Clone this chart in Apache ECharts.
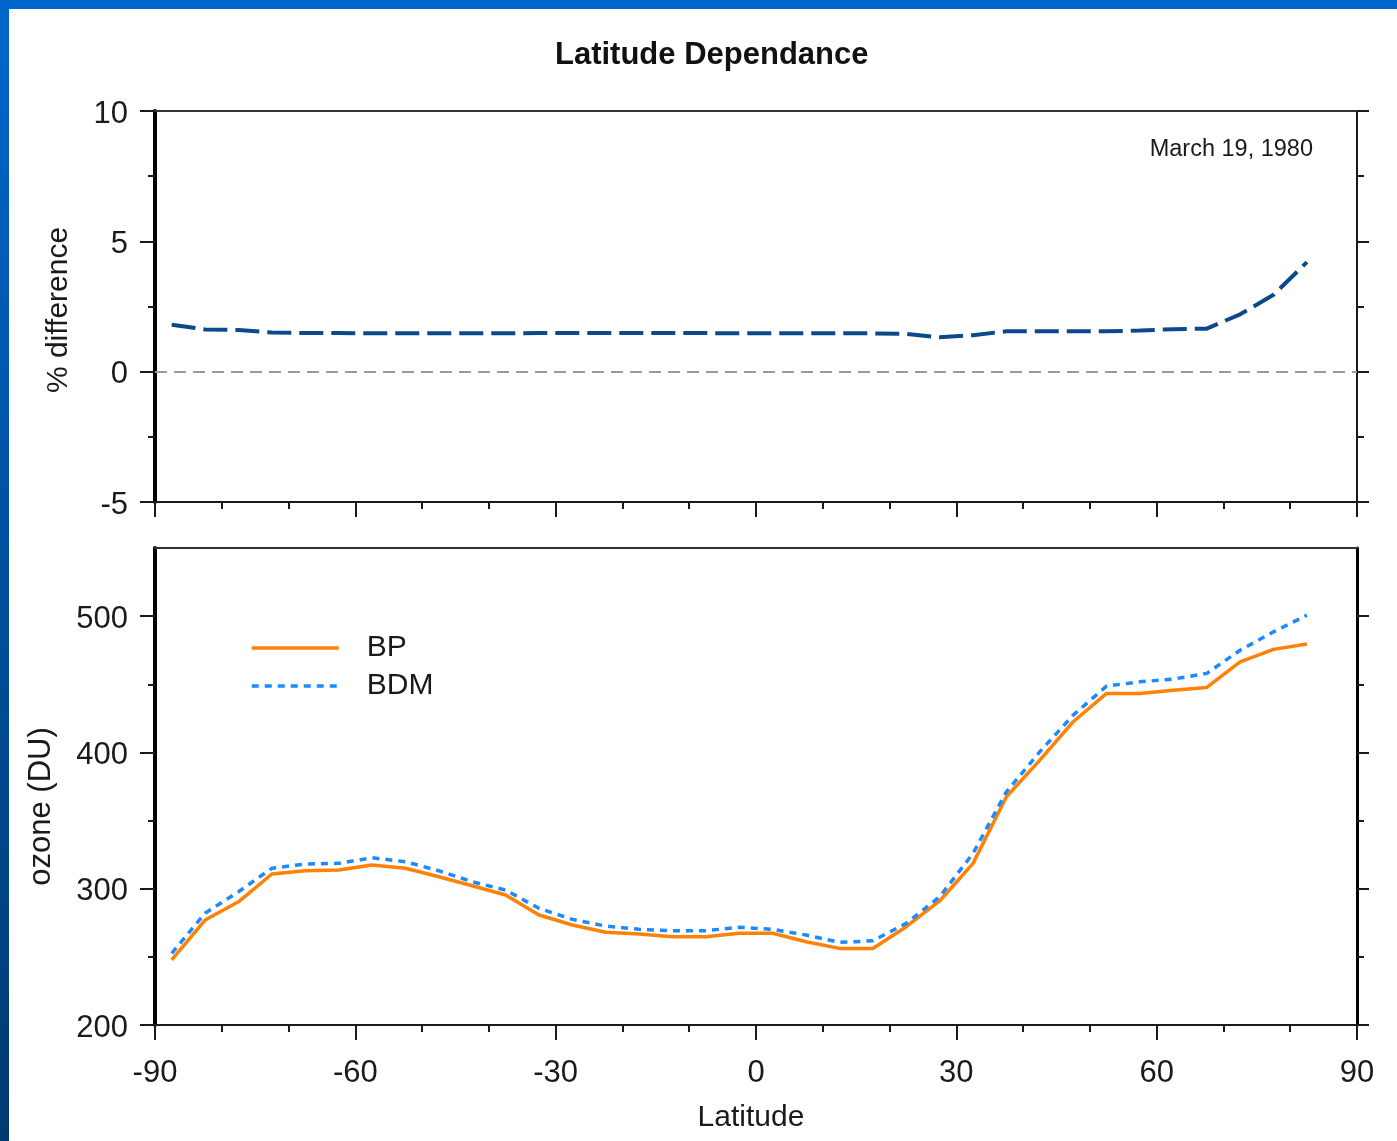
<!DOCTYPE html>
<html>
<head>
<meta charset="utf-8">
<script src="https://cdn.jsdelivr.net/npm/echarts@6/dist/echarts.min.js"></script>
<style>
  html, body { margin: 0; padding: 0; background: #fff; }
  #chart { width: 1397px; height: 1141px; }
  .frame-top { position: absolute; left: 0; top: 0; width: 1397px; height: 9px; background: #0066cc; }
  .frame-left { position: absolute; left: 0; top: 0; width: 9px; height: 1141px; background: linear-gradient(#0066cc, #003a70); }
</style>
</head>
<body>
<div id="chart"></div>
<div class="frame-top"></div>
<div class="frame-left"></div>
<script>
const latitudes = [
  -87.5, -82.5, -77.5, -72.5, -67.5, -62.5, -57.5, -52.5, -47.5, -42.5, -37.5, -32.5,
  -27.5, -22.5, -17.5, -12.5, -7.5, -2.5, 2.5, 7.5, 12.5, 17.5, 22.5, 27.5,
  32.5, 37.5, 42.5, 47.5, 52.5, 57.5, 62.5, 67.5, 72.5, 77.5, 82.5,
];
const percentDifference = [
  1.8, 1.62, 1.6, 1.5, 1.48, 1.48, 1.47, 1.47, 1.47, 1.47, 1.47, 1.48,
  1.48, 1.48, 1.48, 1.48, 1.48, 1.47, 1.47, 1.47, 1.47, 1.47, 1.45, 1.32,
  1.4, 1.55, 1.55, 1.55, 1.55, 1.58, 1.63, 1.65, 2.2, 2.95, 4.2,
];
const ozoneBP = [
  247.7, 277, 290.4, 310.8, 313.2, 313.7, 317.4, 315, 308.8, 302.2, 295.4, 280.7,
  273.4, 268, 266.8, 264.8, 264.8, 267.3, 267.3, 261.1, 256.2, 256.2, 272.1, 291,
  318.6, 367.5, 394.4, 422.5, 443.3, 443.3, 445.7, 447.7, 466.5, 475.6, 479.5,
];
const ozoneBDM = [
  252.6, 282, 297.8, 315, 318.1, 318.6, 322.7, 319.8, 313.2, 305.1, 299, 285.6,
  277.5, 272.6, 270.2, 269.2, 269.2, 271.7, 270.2, 266, 260.6, 261.8, 274.6, 294.1,
  325.9, 371.1, 400.5, 427.4, 448.7, 451.8, 453.8, 458, 475, 488.5, 500.7,
];
const ozoneMajorTicks = [200, 300, 400, 500];
const ozoneMinorTicks = [250, 350, 450];
const dateNote = "March 19, 1980";

const font = "'Liberation Sans', Arial, sans-serif";
const ink = "#1a1a1a";
const pairs = (values) => latitudes.map((lat, i) => [lat, values[i]]);

const latitudeAxis = (gridIndex, position, extra) => Object.assign({
  gridIndex,
  type: "value",
  position,
  min: -90,
  max: 90,
  interval: 30,
  axisLine: { show: true, onZero: false, lineStyle: { color: ink, width: 2 } },
  axisTick: { show: false },
  axisLabel: { show: false },
  splitLine: { show: false },
}, extra);

const bottomTicks = {
  axisTick: { show: true, length: 15, lineStyle: { color: ink, width: 2 } },
  minorTick: { show: true, splitNumber: 3, length: 7, lineStyle: { color: ink, width: 2 } },
};

// y tick labels sit a few pixels below their ticks in the original
const yLabel = {
  margin: 27,
  formatter: "{v|{value}}",
  rich: { v: { fontFamily: font, fontSize: 31, color: ink, padding: [6, 0, 0, 0] } },
};

const chart = echarts.init(document.getElementById("chart"), null, { renderer: "canvas" });
chart.setOption({
  backgroundColor: "#ffffff",
  animation: false,
  textStyle: { fontFamily: font },
  title: [
    {
      text: "Latitude Dependance",
      left: 555,
      top: 40,
      padding: 0,
      textStyle: { fontFamily: font, fontSize: 31, fontWeight: "bold", color: "#111" },
    },
    {
      text: dateNote,
      right: 84,
      top: 138,
      padding: 0,
      textStyle: { fontFamily: font, fontSize: 23.5, fontWeight: "normal", color: ink },
    },
  ],
  legend: {
    data: ["BP", "BDM"],
    orient: "vertical",
    left: 250,
    top: 633,
    padding: 0,
    itemWidth: 87,
    itemHeight: 14,
    itemGap: 8,
    itemStyle: { opacity: 0 },
    lineStyle: { width: 3.5 },
    textStyle: { fontFamily: font, fontSize: 30, color: ink, padding: [0, 0, 0, 23] },
  },
  grid: [
    { left: 155, right: 40, top: 111, height: 391 },
    { left: 155, right: 40, top: 548, height: 477 },
  ],
  xAxis: [
    latitudeAxis(0, "bottom", bottomTicks),
    latitudeAxis(0, "top", { axisLine: { show: true, onZero: false, lineStyle: { color: "#333", width: 2 } } }),
    latitudeAxis(1, "bottom", Object.assign({}, bottomTicks, {
      name: "Latitude",
      nameLocation: "middle",
      nameGap: 78,
      nameTextStyle: { fontFamily: font, fontSize: 30, color: ink, padding: [0, 10, 0, 0] },
      axisLabel: { show: true, margin: 33, fontFamily: font, fontSize: 31, color: ink },
    })),
    latitudeAxis(1, "top", { axisLine: { show: true, onZero: false, lineStyle: { color: "#333", width: 2 } } }),
  ],
  yAxis: [
    {
      gridIndex: 0, type: "value", position: "left", min: -5, max: 10, interval: 5,
      name: "% difference", nameLocation: "middle", nameGap: 81,
      nameTextStyle: { fontFamily: font, fontSize: 30, color: ink, padding: [0, 7, 0, 0] },
      axisLine: { show: true, onZero: false, lineStyle: { color: "#000", width: 4 } },
      axisTick: { show: true, length: 15, lineStyle: { color: ink, width: 2 } },
      minorTick: { show: true, splitNumber: 2, length: 7, lineStyle: { color: ink, width: 2 } },
      axisLabel: yLabel,
      splitLine: { show: false },
    },
    {
      gridIndex: 0, type: "value", position: "right", min: -5, max: 10, interval: 5,
      axisLine: { show: true, onZero: false, lineStyle: { color: ink, width: 2 } },
      axisTick: { show: true, length: 12, lineStyle: { color: ink, width: 2 } },
      minorTick: { show: true, splitNumber: 2, length: 7, lineStyle: { color: ink, width: 2 } },
      axisLabel: { show: false },
      splitLine: { show: false },
    },
    {
      gridIndex: 1, type: "value", position: "left", min: 200, max: 550, interval: 100,
      name: "ozone (DU)", nameLocation: "middle", nameGap: 98,
      nameTextStyle: { fontFamily: font, fontSize: 31, color: ink, padding: [0, 40, 0, 0] },
      axisLine: { show: true, onZero: false, lineStyle: { color: "#000", width: 4 } },
      axisTick: { show: true, length: 15, customValues: ozoneMajorTicks, lineStyle: { color: ink, width: 2 } },
      axisLabel: Object.assign({ customValues: ozoneMajorTicks }, yLabel),
      splitLine: { show: false },
    },
    {
      gridIndex: 1, type: "value", position: "right", min: 200, max: 550, interval: 100,
      axisLine: { show: true, onZero: false, lineStyle: { color: "#000", width: 3 } },
      axisTick: { show: true, length: 12, customValues: ozoneMajorTicks, lineStyle: { color: ink, width: 2 } },
      axisLabel: { show: false },
      splitLine: { show: false },
    },
    {
      gridIndex: 1, type: "value", position: "left", min: 200, max: 550, interval: 50,
      axisLine: { show: false, onZero: false },
      axisTick: { show: true, length: 7, customValues: ozoneMinorTicks, lineStyle: { color: ink, width: 2 } },
      axisLabel: { show: false },
      splitLine: { show: false },
    },
    {
      gridIndex: 1, type: "value", position: "right", min: 200, max: 550, interval: 50,
      axisLine: { show: false, onZero: false },
      axisTick: { show: true, length: 7, customValues: ozoneMinorTicks, lineStyle: { color: ink, width: 2 } },
      axisLabel: { show: false },
      splitLine: { show: false },
    },
  ],
  series: [
    {
      name: "% difference",
      type: "line",
      xAxisIndex: 0,
      yAxisIndex: 0,
      symbol: "none",
      data: pairs(percentDifference),
      lineStyle: { color: "#0b4a8a", width: 4, type: [24, 8] },
      markLine: {
        silent: true,
        symbol: "none",
        label: { show: false },
        lineStyle: { color: "#9a9a9a", width: 2, type: [12, 7] },
        data: [{ yAxis: 0 }],
      },
      z: 3,
    },
    {
      name: "BP",
      type: "line",
      xAxisIndex: 2,
      yAxisIndex: 2,
      symbol: "none",
      data: pairs(ozoneBP),
      itemStyle: { color: "#ff8106" },
      lineStyle: { color: "#ff8106", width: 3.5 },
    },
    {
      name: "BDM",
      type: "line",
      xAxisIndex: 2,
      yAxisIndex: 2,
      symbol: "none",
      data: pairs(ozoneBDM),
      itemStyle: { color: "#1b8bff" },
      lineStyle: { color: "#1b8bff", width: 3.5, type: [7, 6] },
    },
  ],
});
</script>
</body>
</html>
